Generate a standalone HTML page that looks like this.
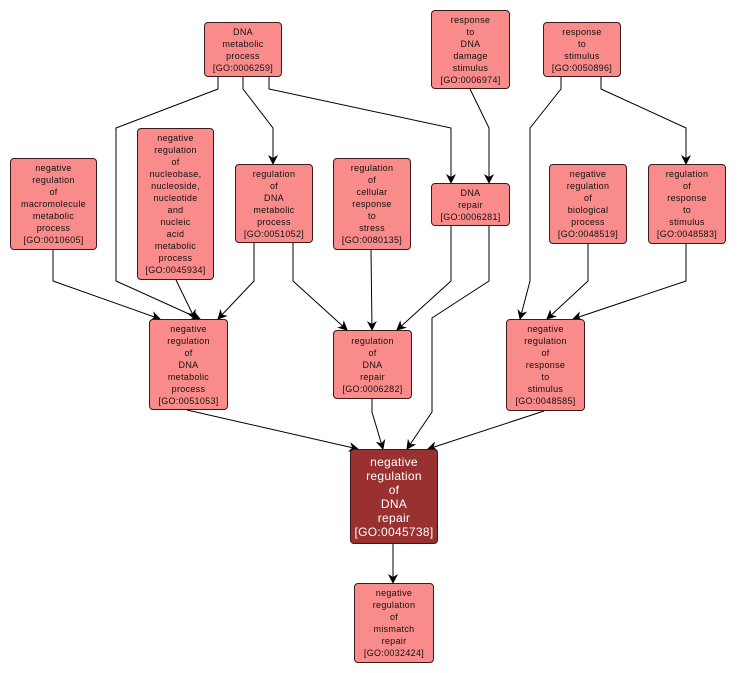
<!DOCTYPE html>
<html><head><meta charset="utf-8"><style>
body{margin:0;width:738px;height:673px;background:#fff;position:relative;overflow:hidden;font-family:"Liberation Sans",sans-serif}
.n{position:absolute;box-sizing:border-box;background:#fa8b8b;border:1px solid #3a1a1a;border-radius:4px;display:flex;align-items:center;justify-content:center;text-align:center;font-size:9px;line-height:12px;color:#111;letter-spacing:0.3px}
.d{background:#993131;color:#fff;font-size:12px;line-height:14px}
svg{position:absolute;left:0;top:0}
</style></head><body>
<svg width="738" height="673" viewBox="0 0 738 673">
<defs><marker id="a" markerWidth="10" markerHeight="10" refX="9" refY="5" orient="auto" markerUnits="userSpaceOnUse"><path d="M0,0 L10,5 L0,10 L3,5 z" fill="#000"/></marker></defs>
<g fill="none" stroke="#000" stroke-width="1" marker-end="url(#a)">
<polyline points="218,77 218,89 116,128 116,281 200,319"/>
<polyline points="243,77 243,89 273,128 273,164"/>
<polyline points="269,77 269,89 451,128 451,183"/>
<polyline points="470,89 489,128 489,183"/>
<polyline points="561,77 561,89 530,128 530,281 520,319"/>
<polyline points="601,77 601,89 686,128 686,164"/>
<polyline points="53,250 53,281 160,319"/>
<polyline points="176,280 195,319"/>
<polyline points="254,243 254,281 218,319"/>
<polyline points="293,243 293,281 347,330"/>
<polyline points="371,250 372,330"/>
<polyline points="451,226 451,281 397,330"/>
<polyline points="489,226 489,281 432,318 432,412 407,449"/>
<polyline points="588,244 588,281 547,319"/>
<polyline points="686,244 686,281 573,319"/>
<polyline points="187,410 358,449"/>
<polyline points="372,399 372,412 383,449"/>
<polyline points="544,411 428,449"/>
<polyline points="393,544 393,583"/>
</g></svg>
<div class="n" style="left:204px;top:22px;width:78px;height:55px">DNA<br>metabolic<br>process<br>[GO:0006259]</div>
<div class="n" style="left:10px;top:158px;width:87px;height:92px">negative<br>regulation<br>of<br>macromolecule<br>metabolic<br>process<br>[GO:0010605]</div>
<div class="n" style="left:137px;top:128px;width:77px;height:152px">negative<br>regulation<br>of<br>nucleobase,<br>nucleoside,<br>nucleotide<br>and<br>nucleic<br>acid<br>metabolic<br>process<br>[GO:0045934]</div>
<div class="n" style="left:235px;top:164px;width:78px;height:79px">regulation<br>of<br>DNA<br>metabolic<br>process<br>[GO:0051052]</div>
<div class="n" style="left:333px;top:158px;width:78px;height:92px">regulation<br>of<br>cellular<br>response<br>to<br>stress<br>[GO:0080135]</div>
<div class="n" style="left:431px;top:10px;width:79px;height:79px">response<br>to<br>DNA<br>damage<br>stimulus<br>[GO:0006974]</div>
<div class="n" style="left:431px;top:183px;width:79px;height:43px">DNA<br>repair<br>[GO:0006281]</div>
<div class="n" style="left:543px;top:22px;width:78px;height:55px">response<br>to<br>stimulus<br>[GO:0050896]</div>
<div class="n" style="left:549px;top:164px;width:78px;height:80px">negative<br>regulation<br>of<br>biological<br>process<br>[GO:0048519]</div>
<div class="n" style="left:648px;top:164px;width:78px;height:80px">regulation<br>of<br>response<br>to<br>stimulus<br>[GO:0048583]</div>
<div class="n" style="left:149px;top:319px;width:79px;height:91px">negative<br>regulation<br>of<br>DNA<br>metabolic<br>process<br>[GO:0051053]</div>
<div class="n" style="left:333px;top:330px;width:79px;height:69px">regulation<br>of<br>DNA<br>repair<br>[GO:0006282]</div>
<div class="n" style="left:506px;top:319px;width:79px;height:92px">negative<br>regulation<br>of<br>response<br>to<br>stimulus<br>[GO:0048585]</div>
<div class="n d" style="left:350px;top:449px;width:88px;height:95px">negative<br>regulation<br>of<br>DNA<br>repair<br>[GO:0045738]</div>
<div class="n" style="left:354px;top:583px;width:80px;height:80px">negative<br>regulation<br>of<br>mismatch<br>repair<br>[GO:0032424]</div>
</body></html>
